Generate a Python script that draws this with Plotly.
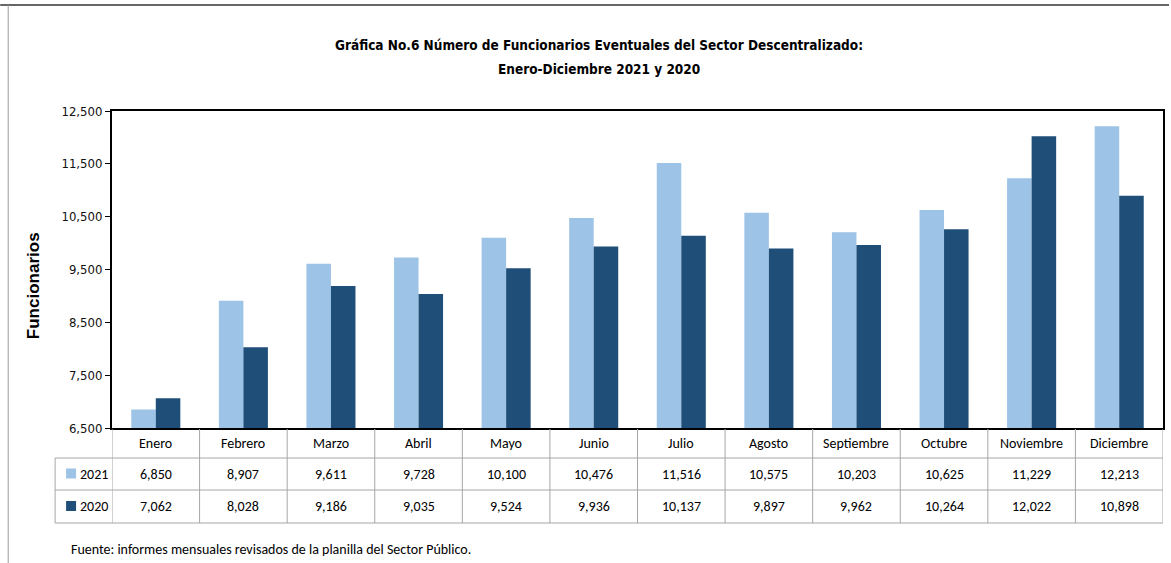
import plotly.graph_objects as go

months = ["Enero", "Febrero", "Marzo", "Abril", "Mayo", "Junio", "Julio",
          "Agosto", "Septiembre", "Octubre", "Noviembre", "Diciembre"]
v2021 = [6850, 8907, 9611, 9728, 10100, 10476, 11516, 10575, 10203, 10625, 11229, 12213]
v2020 = [7062, 8028, 9186, 9035, 9524, 9936, 10137, 9897, 9962, 10264, 12022, 10898]
series_names = ["2021", "2020"]
colors = ["#9DC3E6", "#1F4E79"]
yticks = [6500, 7500, 8500, 9500, 10500, 11500, 12500]

W, H = 1171, 563
L, R, T, B = 112, 6, 111, 135
PW, PH = W - L - R, H - T - B

def px(X):
    return (X - L) / PW

def py(Y):
    return (H - B - Y) / PH

narrow = "DejaVu Sans Condensed, Liberation Sans Narrow, Arial Narrow, sans-serif"
tabfont = "Carlito, Calibri, Lato, sans-serif"

fig = go.Figure()
for name, vals, c in zip(series_names, [v2021, v2020], colors):
    fig.add_trace(go.Bar(x=list(range(len(months))), y=vals, name=name,
                         marker=dict(color=c, line=dict(width=0)),
                         showlegend=False))

fig.update_layout(
    width=W, height=H,
    margin=dict(l=L, r=R, t=T, b=B),
    paper_bgcolor="white", plot_bgcolor="white",
    barmode="group", bargap=0.44, bargroupgap=0,
    xaxis=dict(range=[-0.5, len(months) - 0.5], showticklabels=False,
               showgrid=False, zeroline=False, showline=True,
               linecolor="black", linewidth=2, mirror=True, ticks=""),
    yaxis=dict(range=[6500, 12500], tickvals=yticks,
               ticktext=[f"{v:,}" for v in yticks],
               showgrid=False, zeroline=False, showline=True,
               linecolor="black", linewidth=2, mirror=True,
               ticks="outside", ticklen=5, tickcolor="black",
               tickfont=dict(family=narrow, size=13, color="#111")),
)

shapes = []
ann = []

# outer frame (top and left)
shapes.append(dict(type="line", xref="paper", yref="paper",
                   x0=px(0), x1=px(W), y0=py(5), y1=py(5),
                   line=dict(color="#333", width=1.5)))
shapes.append(dict(type="line", xref="paper", yref="paper",
                   x0=px(8), x1=px(8), y0=py(5), y1=py(H),
                   line=dict(color="#999", width=1)))

# title
ann.append(dict(xref="paper", yref="paper", x=px(600), y=py(45),
                text="<b>Gráfica No.6 Número de Funcionarios Eventuales del Sector Descentralizado:</b>",
                showarrow=False, font=dict(family=narrow, size=13.5, color="black"),
                xanchor="center", yanchor="middle"))
ann.append(dict(xref="paper", yref="paper", x=px(600), y=py(69),
                text="<b>Enero-Diciembre 2021 y 2020</b>",
                showarrow=False, font=dict(family=narrow, size=13.5, color="black"),
                xanchor="center", yanchor="middle"))

# y-axis title
ann.append(dict(xref="paper", yref="paper", x=px(33), y=py(286),
                text="<b>Funcionarios</b>", textangle=-90, showarrow=False,
                font=dict(family="Liberation Sans, Arial, sans-serif", size=17, color="black"),
                xanchor="center", yanchor="middle"))

# table geometry
y_top, y_h, y_r1, y_r2 = 429, 458, 490, 523
x_leg = 55
gcol = "#A6A6A6"
n = len(months)
for i in range(n + 1):
    shapes.append(dict(type="line", xref="x", yref="paper",
                       x0=i - 0.5, x1=i - 0.5, y0=py(y_top), y1=py(y_r2),
                       line=dict(color=gcol, width=1)))
shapes.append(dict(type="line", xref="paper", yref="paper",
                   x0=px(x_leg), x1=px(x_leg), y0=py(y_h), y1=py(y_r2),
                   line=dict(color=gcol, width=1)))
for yy in [y_h, y_r1, y_r2]:
    shapes.append(dict(type="line", xref="paper", yref="paper",
                       x0=px(x_leg), x1=px(W - R), y0=py(yy), y1=py(yy),
                       line=dict(color=gcol, width=1)))

# header
yc_h = (y_top + y_h) / 2
for i, m in enumerate(months):
    ann.append(dict(xref="x", yref="paper", x=i, y=py(yc_h), text=m,
                    showarrow=False, font=dict(family=tabfont, size=14, color="black"),
                    xanchor="center", yanchor="middle"))

# rows
for (name, vals, c, y0, y1) in [(series_names[0], v2021, colors[0], y_h, y_r1),
                                 (series_names[1], v2020, colors[1], y_r1, y_r2)]:
    yc = (y0 + y1) / 2
    shapes.append(dict(type="rect", xref="paper", yref="paper",
                       x0=px(66), x1=px(76), y0=py(yc - 5.5), y1=py(yc + 4.5),
                       fillcolor=c, line=dict(width=0)))
    ann.append(dict(xref="paper", yref="paper", x=px(78), y=py(yc), text=name,
                    showarrow=False, font=dict(family=tabfont, size=14, color="black"),
                    xanchor="left", yanchor="middle"))
    for i, v in enumerate(vals):
        ann.append(dict(xref="x", yref="paper", x=i, y=py(yc), text=f"{v:,}",
                        showarrow=False, font=dict(family=tabfont, size=14, color="black"),
                        xanchor="center", yanchor="middle"))

# source
ann.append(dict(xref="paper", yref="paper", x=px(69), y=py(549),
                text="Fuente: informes mensuales revisados de la planilla del Sector Público.",
                showarrow=False, font=dict(family=tabfont, size=14, color="black"),
                xanchor="left", yanchor="middle"))

fig.update_layout(shapes=shapes, annotations=ann)
fig.write_html("out.html", config={"displayModeBar": False},
               post_script="document.body.style.margin='0';document.body.style.overflow='hidden';")
